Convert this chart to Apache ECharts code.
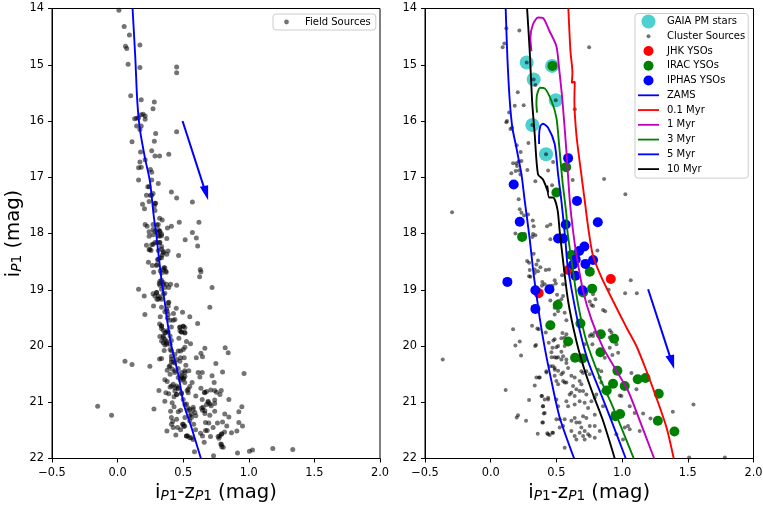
<!DOCTYPE html>
<html>
<head>
<meta charset="utf-8">
<style>html,body{margin:0;padding:0;background:#fff}#chart{width:763px;height:505px}</style>
<script src="https://cdn.jsdelivr.net/npm/echarts@6/dist/echarts.min.js"></script>
</head>
<body>
<div id="chart"></div>
<script>
const fieldSources = [
  [.01,14.03],[.05,14.32],[.09,14.47],[.06,14.67],[.07,14.71],[.17,14.65],[.08,14.99],[.17,15.05],[.45,15.04],[.45,15.14],
  [.10,15.55],[.18,15.62],[.28,15.66],[.27,15.78],[.13,15.96],[.145,15.95],[.16,15.94],[.18,15.89],[.195,15.88],[.21,15.91],
  [.21,15.97],[.145,16.09],[.18,16.09],[.17,16.15],[.45,16.19],[.29,16.22],[.28,16.36],[.11,16.37],[.175,16.55],[.26,16.53],
  [.285,16.62],[.32,16.62],[.39,16.59],[.21,16.69],[.17,16.73],[.16,16.83],[.18,16.82],[.25,16.86],[.26,16.91],[.16,17.05],
  [.26,17.05],[.31,17.11],[.23,17.17],[.24,17.17],[.41,17.26],[.45,17.37],[.57,17.44],[.22,17.32],[.25,17.32],[.27,17.29],
  [.26,17.32],[.24,17.43],[.19,17.48],[.285,17.46],[.28,17.51],[.29,17.46],[.205,17.56],[.285,17.59],[.32,17.73],[.34,17.76],
  [.47,17.8],[.62,17.8],[.21,17.84],[.225,17.87],[.41,17.87],[.38,17.9],[.27,17.84],[.30,17.85],[.31,17.84],[.24,17.97],
  [.27,17.93],[.31,17.93],[.32,17.96],[.30,17.98],[.335,18.01],[.57,17.98],[.24,18.05],[.27,18.02],[.32,18.05],[.375,18.09],
  [.6,18.08],[.515,18.11],[.61,18.22],[.22,18.21],[.26,18.2],[.3,18.16],[.335,18.23],[.32,18.16],[.24,18.29],[.255,18.3],
  [.31,18.3],[.35,18.32],[.385,18.31],[.375,18.37],[.34,18.38],[.465,18.39],[.305,18.46],[.335,18.43],[.3,18.55],[.235,18.51],
  [.265,18.57],[.36,18.61],[.35,18.64],[.325,18.66],[.37,18.69],[.275,18.69],[.335,18.7],[.63,18.64],[.635,18.68],[.625,18.77],
  [.335,18.83],[.317,18.89],[.348,18.87],[.322,18.92],[.373,18.9],[.404,18.9],[.39,18.96],[.45,18.92],[.36,18.96],[.72,18.96],
  [.16,18.99],[.297,19.05],[.27,19.07],[.203,19.11],[.31,19.11],[.322,19.14],[.36,19.06],[.30,19.17],[.335,19.17],[.39,19.22],
  [.386,19.29],[.378,19.38],[.335,19.31],[.274,19.29],[.208,19.44],[.36,19.39],[.447,19.33],[.495,19.4],[.426,19.42],[.55,19.48],
  [.61,19.6],[.703,19.31],[.325,19.48],[.38,19.5],[.437,19.53],[.424,19.54],[.40,19.54],[.32,19.61],[.335,19.64],[.335,19.69],
  [.378,19.73],[.36,19.77],[.41,19.66],[.475,19.66],[.5,19.65],[.513,19.67],[.475,19.73],[.487,19.75],[.513,19.77],[.40,19.82],
  [.348,19.82],[.322,19.83],[.36,19.88],[.373,19.91],[.41,19.9],[.467,19.86],[.525,19.92],[.556,19.96],[.348,19.94],[.373,19.97],
  [.36,19.98],[.40,19.97],[.513,20.02],[.5,20.06],[.48,20.09],[.40,20.06],[.462,20.09],[.355,20.08],[.437,20.15],[.41,20.18],
  [.45,20.24],[.48,20.21],[.508,20.21],[.32,20.23],[.335,20.22],[.60,20.21],[.635,20.13],[.647,20.19],[.665,20.04],[.82,20.03],
  [.843,20.12],[.056,20.27],[.11,20.33],[.246,20.36],[.41,20.28],[.437,20.3],[.475,20.27],[.749,20.31],[.52,20.34],[.378,20.43],
  [.393,20.37],[.416,20.41],[.437,20.44],[.462,20.4],[.487,20.47],[.513,20.47],[.543,20.44],[.614,20.47],[.645,20.47],[.627,20.55],
  [.80,20.46],[.964,20.49],[.72,20.53],[.40,20.5],[.487,20.53],[.513,20.54],[.36,20.6],[.378,20.63],[.48,20.61],[.505,20.57],
  [.736,20.65],[.568,20.65],[.424,20.68],[.45,20.71],[.55,20.72],[.40,20.73],[.635,20.75],[.315,20.79],[.368,20.83],[.39,20.85],
  [.462,20.76],[.437,20.8],[.45,20.86],[.43,20.9],[.487,20.85],[.53,20.79],[.538,20.83],[.596,20.89],[.662,20.82],[.678,20.81],
  [.71,20.78],[.74,20.79],[.754,20.82],[.79,20.79],[.78,20.86],[.36,20.98],[.416,21.01],[.43,21.08],[.5,20.95],[.513,21.04],
  [.538,21.1],[.55,21.13],[.645,20.95],[.69,20.98],[.74,20.96],[.74,21.02],[.678,21.04],[.713,21.06],[.848,20.95],[.947,21.08],
  [.64,21.1],[.277,21.12],[.404,21.16],[.462,21.17],[.48,21.14],[.576,21.13],[.589,21.18],[.647,21.14],[.665,21.2],[.74,21.16],
  [.703,21.23],[.817,21.21],[.848,21.26],[.924,21.17],[-.152,21.07],[-.046,21.23],[.41,21.27],[.45,21.3],[.42,21.34],[.513,21.27],
  [.55,21.24],[.563,21.27],[.596,21.24],[.58,21.39],[.67,21.36],[.695,21.37],[.761,21.37],[.80,21.35],[.924,21.36],[.952,21.42],
  [.832,21.42],[.41,21.39],[.424,21.45],[.495,21.39],[.505,21.43],[.457,21.45],[.728,21.45],[.376,21.51],[.48,21.49],[.594,21.49],
  [.67,21.5],[.683,21.5],[.632,21.55],[.815,21.53],[.868,21.54],[.909,21.51],[.794,21.56],[.444,21.58],[.525,21.6],[.535,21.6],
  [.563,21.63],[.647,21.6],[.708,21.61],[.766,21.61],[.772,21.64],[.66,21.71],[.787,21.74],[.794,21.79],[.805,21.8],[.586,21.88],
  [.731,21.95],[.914,21.9],[1.005,21.87],[1.028,21.85],[1.183,21.82],[1.335,21.84],
  [.347,19.85],[.335,19.91],[.373,19.94],[.411,20.09],[.411,20.23],[.424,20.29],[.398,20.35],[.436,20.47],[.462,20.56],[.487,20.56],
  [.512,20.44],[.5,20.59],[.512,20.65],[.436,20.74],[.411,20.71],[.462,20.74],[.449,20.86],[.487,20.83],[.538,20.77],[.525,21.03],
  [.538,21.15],[.563,21.21],[.576,21.09],[.55,21.33],[.5,21.39],[.512,21.42],[.525,21.6],[.55,21.63],[.576,21.66],[.665,20.83],
  [.69,21.0],[.703,21.03],[.652,21.09],[.665,21.15],[.791,21.57],[.779,21.6],[.791,21.75],
  [.284,17.96],[.322,17.96],[.31,18.04],[.335,18.04],[.322,18.16],[.284,18.16],[.271,18.19],[.246,18.28],[.335,18.28],[.348,18.34],
  [.31,18.46],[.322,18.43],[.297,18.57],[.353,18.61],[.368,18.67],[.322,18.85],[.348,18.9],[.335,18.99],[.297,19.05],[.284,19.11],
  [.31,19.17],[.348,19.08],[.386,19.23],[.373,19.35],[.386,19.44],[.335,19.65],[.348,19.72],[.474,19.67],[.5,19.65],[.487,19.75],
  [.512,19.76],[.368,19.76],[.386,19.75]
]
const clusterSources = [
  [.119,14.35],[.218,14.39],[.104,14.62],[.091,14.69],[.749,14.69],[.274,14.96],[.327,15.26],[.34,15.36],[.206,15.49],[.495,15.63],
  [.183,15.73],[.251,15.72],[.14,15.85],[.64,15.79],[.124,16.0],[.119,16.02],[.317,16.07],[.15,16.14],[.162,16.12],[.287,16.39],
  [.198,16.43],[.421,16.59],[.475,16.73],[.228,16.55],[.17,16.75],[.195,16.75],[.213,16.72],[.2,16.8],[.234,16.71],[.19,16.89],
  [.157,16.93],[.216,16.88],[.226,16.95],[.279,16.87],[.437,16.88],[.34,17.07],[.624,17.05],[.863,17.03],[.467,17.14],[1.025,17.3],
  [.213,17.39],[-.294,17.62],[.221,17.57],[.234,17.63],[.254,17.68],[.284,17.66],[.32,17.77],[.327,17.87],[.429,17.87],[.454,17.84],
  [.188,18.0],[.259,18.01],[.322,18.01],[.34,18.03],[.317,18.06],[.454,18.1],[.812,18.3],[.327,18.36],[.277,18.49],[.292,18.52],
  [.36,18.48],[.378,18.6],[.444,18.64],[.419,18.65],[.335,18.64],[.297,18.65],[.292,18.76],[.302,18.77],[.335,18.7],[.36,18.67],
  [.348,18.55],[1.066,18.83],[.487,18.83],[.543,18.74],[.495,18.89],[.47,18.93],[.393,18.86],[.39,18.93],[.411,18.9],[.551,18.9],
  [.898,19.0],[1.023,19.06],[1.112,19.06],[.551,19.11],[.538,19.17],[.454,19.19],[.505,19.09],[.779,19.08],[.797,19.17],[.754,19.21],
  [.766,19.27],[.779,19.29],[.487,19.32],[.513,19.38],[.487,19.44],[.563,19.41],[.576,19.54],[.855,19.36],[.871,19.38],[.513,19.2],
  [.17,19.7],[.315,19.64],[.355,19.69],[.365,19.7],[.437,19.64],[.419,19.76],[.221,19.92],[.188,19.99],[.231,20.17],[.345,19.98],
  [.338,20.0],[.546,19.77],[.576,19.79],[.563,19.85],[.487,19.88],[.477,19.9],[.538,19.86],[.442,19.94],[.47,20.03],[.5,20.02],
  [.513,20.0],[.563,20.0],[.538,20.1],[.487,20.2],[.513,20.2],[.551,20.18],[.576,20.24],[.464,20.2],[.454,20.36],[.487,20.39],
  [.424,20.47],[.513,20.44],[.551,20.47],[.589,20.39],[.538,20.5],[.766,19.79],[.779,19.82],[.754,19.82],[.792,19.76],[.906,19.72],
  [.919,19.76],[.906,19.85],[.957,19.97],[.906,20.03],[.97,20.12],[.926,20.16],[.868,20.21],[.774,19.97],[.716,19.97],[.817,20.09],
  [-.365,20.24],[.348,20.56],[.368,20.56],[.335,20.7],[.114,20.78],[.292,20.96],[.391,20.89],[.437,20.92],[.398,21.07],[.437,20.95],
  [.404,21.2],[.393,21.36],[.208,21.23],[.198,21.27],[.269,21.33],[.358,21.56],[.431,21.55],[.449,21.58],[.47,21.54],
  [.462,20.11],[.5,20.21],[.538,20.24],[.576,20.3],[.474,20.36],[.487,20.42],[.424,20.45],[.373,20.56],[.487,20.53],[.5,20.62],
  [.551,20.62],[.563,20.65],[.576,20.65],[.513,20.68],[.614,20.53],[.639,20.56],[.69,20.45],[.703,20.48],[.728,20.45],[.754,20.5],
  [.817,20.42],[.842,20.45],[.83,20.56],[.842,20.65],[.677,20.62],[.69,20.68],[.627,20.71],[.652,20.77],[.677,20.8],[.703,20.8],
  [.614,20.83],[.601,20.86],[.639,20.89],[.728,20.86],[.804,20.86],[.855,20.8],[.677,20.98],[.715,21.01],[.639,21.04],[.386,20.89],
  [.411,20.95],[.398,21.07],[.5,20.95],[.513,21.07],[.576,20.98],[.589,21.07],[.792,20.92],[.766,20.98],[.741,21.1],[.855,21.07],
  [.411,21.19],[.792,21.22],[.728,21.28],[.703,21.25],[.614,21.33],[.639,21.28],[.652,21.36],[.677,21.36],[.5,21.3],[.525,21.3],
  [.563,21.3],[.398,21.36],[.551,21.42],[.474,21.54],[.436,21.57],[.525,21.45],[.614,21.51],[.69,21.45],[.715,21.51],[.754,21.42],
  [.792,21.42],[.83,21.51],[.677,21.54],[.741,21.57],[.792,21.63],[.639,21.6],[.703,21.6],[.652,21.66],[.715,21.66],[.563,21.81],
  [.754,21.6],[.995,20.89],[1.058,21.07],[1.096,21.19],[1.058,21.48],[1.134,21.51],[1.045,21.42],[1.02,21.45],[1.109,20.77],[1.071,20.48],
  [.931,21.19],[1.007,21.66],[.956,21.57],[.982,20.88],[1.16,21.2],[1.216,21.29],[1.386,21.17],[1.543,21.04],[1.51,21.98],[1.782,21.98]
]
const gaiaStars = [[.274,14.96],[.467,15.02],[.327,15.26],[.495,15.63],[.317,16.07],[.421,16.59]]
const jhkYsos = [[.591,18.65],[.914,18.81],[.365,19.06]]
const iracYsos = [
  [.47,15.02],[.574,16.82],[.5,17.27],[.239,18.06],[.614,18.38],[.754,18.68],[.772,18.98],[.703,19.05],[.51,19.27],[.454,19.63],
  [.683,19.6],[.589,19.92],[.838,19.79],[.939,19.87],[.835,20.11],[.642,20.21],[.698,20.22],[.964,20.44],[1.119,20.59],[1.178,20.57],
  [.931,20.67],[1.02,20.71],[.883,20.79],[1.279,20.85],[.949,21.25],[.985,21.21],[1.272,21.33],[1.398,21.52]
]
const iphasYsos = [
  [.589,16.66],[.175,17.13],[.657,17.42],[.221,17.79],[.571,17.84],[.815,17.8],[.513,18.09],[.551,18.09],[.713,18.23],[.673,18.31],
  [.647,18.46],[.779,18.47],[.721,18.54],[.627,18.55],[.645,18.75],[.127,18.86],[.34,19.01],[.447,18.99],[.698,19.01],[.34,19.34]
]
const zamsLeft = [[.114,14],[.135,14.88],[.15,15.65],[.17,16.15],[.208,16.65],[.246,17.07],[.277,17.72],[.292,17.96],[.335,18.84],[.36,19.23],[.378,19.55],[.41,20],[.462,20.5],[.505,21.04],[.563,21.45],[.635,22]]
const zamsRight = [[.114,14],[.127,14.87],[.145,15.64],[.165,16.12],[.195,16.47],[.234,16.95],[.259,17.42],[.297,18.1],[.327,18.73],[.373,19.5],[.411,20.03],[.462,20.62],[.525,21.27],[.635,22]]
const myr01 = [[.591,14],[.607,14.76],[.622,15.14],[.617,15.32],[.64,15.3],[.637,15.64],[.652,16.24],[.683,16.83],[.716,17.42],[.746,17.96],[.779,18.4],[.843,18.78],[.931,19.2],[1.033,19.67],[1.109,20],[1.185,20.44],[1.261,20.92],[1.338,21.45],[1.393,22]]
const myr1 = [[.31,14.76],[.302,14.52],[.322,14.28],[.36,14.16],[.398,14.17],[.447,14.4],[.5,14.67],[.52,15.05],[.546,15.64],[.576,16.53],[.602,17.42],[.627,17.96],[.652,18.37],[.703,19.02],[.767,19.53],[.855,20.03],[.957,20.44],[1.046,20.8],[1.135,21.33],[1.244,22]]
const myr3 = [[.353,15.85],[.348,15.7],[.353,15.53],[.378,15.41],[.411,15.42],[.462,15.64],[.5,15.94],[.52,16.41],[.546,17.07],[.576,17.66],[.584,17.96],[.627,18.67],[.665,19.26],[.728,19.91],[.83,20.56],[.931,21.09],[1.089,22]]
const myr5 = [[.368,16.41],[.368,16.27],[.378,16.09],[.398,16.05],[.437,16.12],[.487,16.41],[.513,16.95],[.538,17.42],[.569,18.13],[.584,18.55],[.627,19.14],[.678,19.73],[.741,20.27],[.83,20.8],[.919,21.33],[1.028,22]]
const myr10 = [[.277,14],[.297,14.76],[.315,15.64],[.335,16.24],[.36,16.95],[.398,17.04],[.437,17.27],[.43,17.15],[.445,17.36],[.475,17.36],[.508,17.57],[.525,17.96],[.551,18.49],[.589,19.2],[.652,19.91],[.716,20.44],[.779,20.86],[.855,21.33],[.944,22]]
const shaftLeft = [[.495,16.0],[.675,17.3]]
const headLeft = [[.627,17.17],[.69,17.14],[.69,17.41]]
const shaftRight = [[1.198,18.99],[1.38,20.3]]
const headRight = [[1.33,20.18],[1.396,20.15],[1.396,20.41]]
const xTicks = ['\u22120.5', '0.0', '0.5', '1.0', '1.5', '2.0']

const font = 'DejaVu Sans'

// legend entries drawn in a 21x14 box so each one keeps its own marker size
const iconBox = 'M0 0L0 0M21 14L21 14'
function dotIcon(r) {
  const cx = 10.5, cy = 7
  return `path://${iconBox}M${cx - r} ${cy}A${r} ${r} 0 1 1 ${cx + r} ${cy}A${r} ${r} 0 1 1 ${cx - r} ${cy}Z`
}
const lineIcon = `path://${iconBox}M0 6.1H21V7.9H0Z`

const nameStyle = {
  fontFamily: font, fontSize: 19.6, color: '#000',
  rich: {
    subP: { fontFamily: font, fontSize: 13.7, fontStyle: 'italic', color: '#000', padding: [7, 0, 0, 0] },
    sub: { fontFamily: font, fontSize: 13.7, color: '#000', padding: [7, 0, 0, 0] }
  }
}

function xAxis(gridIndex) {
  return {
    type: 'value', gridIndex, min: -0.5, max: 2, interval: 0.5,
    name: 'i{subP|P}{sub|1}-z{subP|P}{sub|1} (mag)', nameLocation: 'middle', nameGap: 23,
    nameTextStyle: nameStyle,
    axisLine: { show: true, onZero: false, lineStyle: { color: '#000', width: 1 } },
    axisTick: { show: true, length: 4, lineStyle: { color: '#000', width: 1 } },
    axisLabel: { fontFamily: font, fontSize: 11.4, color: '#000', margin: 9, formatter: (v) => xTicks[Math.round((v + 0.5) * 2)] },
    splitLine: { show: false }
  }
}

function yAxis(gridIndex, withName) {
  return {
    type: 'value', gridIndex, min: 14, max: 22, interval: 1, inverse: true,
    name: withName ? 'i{subP|P}{sub|1} (mag)' : '', nameLocation: 'middle', nameGap: 28, nameRotate: 90,
    nameTextStyle: nameStyle,
    axisLine: { show: true, onZero: false, lineStyle: { color: '#000', width: 1 } },
    axisTick: { show: true, length: 4, lineStyle: { color: '#000', width: 1 } },
    axisLabel: { fontFamily: font, fontSize: 11.4, color: '#000', margin: 8 },
    splitLine: { show: false }
  }
}

function dots(name, data, axis, size, color, opacity, z) {
  return {
    name, type: 'scatter', data, xAxisIndex: axis, yAxisIndex: axis, symbolSize: size, z,
    itemStyle: { color, opacity }, silent: true
  }
}

function curve(name, data, axis, color) {
  return {
    name, type: 'line', data, xAxisIndex: axis, yAxisIndex: axis, showSymbol: false, symbol: 'none',
    smooth: 0.25, z: 5, silent: true, lineStyle: { color, width: 1.9 }, itemStyle: { color }
  }
}

function arrowShaft(name, data, axis) {
  return {
    name, type: 'line', data, xAxisIndex: axis, yAxisIndex: axis, symbol: 'none', z: 6, silent: true,
    lineStyle: { color: '#0000ff', width: 2 }
  }
}

function arrowHead(name, data, axis) {
  return {
    name, type: 'custom', data, xAxisIndex: axis, yAxisIndex: axis, z: 6, silent: true,
    renderItem: (params, api) => {
      if (params.dataIndex !== 0) return null
      return {
        type: 'polygon',
        shape: { points: data.map((p) => api.coord(p)) },
        style: { fill: '#0000ff' }
      }
    }
  }
}

const legendBox = {
  orient: 'vertical', selectedMode: false, backgroundColor: 'rgba(255,255,255,0.8)',
  borderColor: '#ccc', borderWidth: 1, borderRadius: 3,
  itemWidth: 21, itemHeight: 14, itemGap: 0.76,
  textStyle: { fontFamily: font, fontSize: 10, color: '#000', padding: [0, 0, 0, 3] }
}

const chart = echarts.init(document.getElementById('chart'))
chart.setOption({
  animation: false,
  backgroundColor: '#fff',
  grid: [
    { left: 52, top: 8.5, width: 328, height: 450, show: true, borderColor: '#000', borderWidth: 1, outerBoundsMode: 'none' },
    { left: 425, top: 8.5, width: 328.5, height: 450, show: true, borderColor: '#000', borderWidth: 1, outerBoundsMode: 'none' }
  ],
  xAxis: [xAxis(0), xAxis(1)],
  yAxis: [yAxis(0, true), yAxis(1, false)],
  legend: [
    { ...legendBox, left: 273, top: 14, padding: [1, 5, 1, 3], itemGap: 0,
      data: [{ name: 'Field Sources', icon: dotIcon(2.4) }] },
    { ...legendBox, left: 635, top: 13.5, padding: [1, 3, 2, 3],
      data: [
        { name: 'GAIA PM stars', icon: dotIcon(7) },
        { name: 'Cluster Sources', icon: dotIcon(2) },
        { name: 'JHK YSOs', icon: dotIcon(5) },
        { name: 'IRAC YSOs', icon: dotIcon(5) },
        { name: 'IPHAS YSOs', icon: dotIcon(5) },
        { name: 'ZAMS', icon: lineIcon },
        { name: '0.1 Myr', icon: lineIcon },
        { name: '1 Myr', icon: lineIcon },
        { name: '3 Myr', icon: lineIcon },
        { name: '5 Myr', icon: lineIcon },
        { name: '10 Myr', icon: lineIcon }
      ] }
  ],
  series: [
    dots('Field Sources', fieldSources, 0, 5, '#000', 0.55, 2),
    curve('ZAMS field', zamsLeft, 0, '#0000ff'),
    arrowShaft('reddening field', shaftLeft, 0),
    arrowHead('reddening field head', headLeft, 0),
    dots('GAIA PM stars', gaiaStars, 1, 14, '#4dd0d0', 1, 1),
    dots('Cluster Sources', clusterSources, 1, 4, '#000', 0.55, 2),
    dots('JHK YSOs', jhkYsos, 1, 10, '#ff0000', 1, 3),
    dots('IRAC YSOs', iracYsos, 1, 10, '#008000', 1, 3),
    dots('IPHAS YSOs', iphasYsos, 1, 10, '#0000ff', 1, 3),
    curve('ZAMS', zamsRight, 1, '#0000ff'),
    curve('0.1 Myr', myr01, 1, '#ff0000'),
    curve('1 Myr', myr1, 1, '#bf00bf'),
    curve('3 Myr', myr3, 1, '#008000'),
    curve('5 Myr', myr5, 1, '#0000ff'),
    curve('10 Myr', myr10, 1, '#000'),
    arrowShaft('reddening cluster', shaftRight, 1),
    arrowHead('reddening cluster head', headRight, 1)
  ]
})
</script>
</body>
</html>
